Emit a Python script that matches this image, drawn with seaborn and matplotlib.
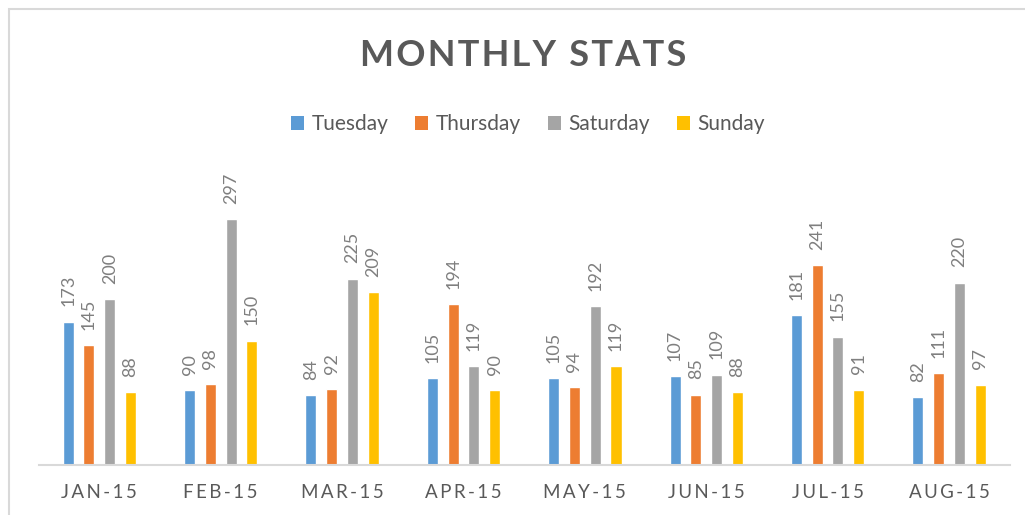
import matplotlib
matplotlib.use("Agg")
import matplotlib.pyplot as plt
from matplotlib.patches import Patch, Rectangle
import pandas as pd
import seaborn as sns

months = ["JAN-15", "FEB-15", "MAR-15", "APR-15", "MAY-15", "JUN-15", "JUL-15", "AUG-15"]
days = ["Tuesday", "Thursday", "Saturday", "Sunday"]
tuesday = [173, 90, 84, 105, 105, 107, 181, 82]
thursday = [145, 98, 92, 194, 94, 85, 241, 111]
saturday = [200, 297, 225, 119, 192, 109, 155, 220]
sunday = [88, 150, 209, 90, 119, 88, 91, 97]
colors = ["#5B9BD5", "#ED7D31", "#A5A5A5", "#FFC000"]

series = dict(zip(days, [tuesday, thursday, saturday, sunday]))
df = pd.DataFrame(
    [(m, d, v) for d in days for m, v in zip(months, series[d])],
    columns=["month", "day", "count"],
)

sns.set_theme(style="white")
plt.rcParams["font.family"] = ["Lato", "DejaVu Sans"]

THIN = "\u2009"
HAIR = "\u200a"

fig = plt.figure(figsize=(10.25, 5.15), dpi=100)
ax = fig.add_axes([0.0377, 0.0971, 0.9473, 0.563])

sns.barplot(
    data=df, x="month", y="count", hue="day", order=months, hue_order=days,
    palette=colors, width=0.685, gap=0.47, saturation=1, legend=False, ax=ax,
    err_kws={"linewidth": 0},
)

for cont in ax.containers:
    ax.bar_label(cont, rotation=90, padding=11, fontsize=13, color="#7F7F7F")

ax.set_xlim(-0.5, len(months) - 0.5)
ax.set_ylim(0, 350)
ax.set_xlabel("")
ax.set_ylabel("")
ax.set_yticks([])
ax.set_xticks(range(len(months)))
ax.set_xticklabels([THIN.join(m) for m in months], fontsize=13.5, color="#595959")
ax.tick_params(axis="x", length=0, pad=14)
for side in ["top", "left", "right"]:
    ax.spines[side].set_visible(False)
ax.spines["bottom"].set_color("#D9D9D9")
ax.spines["bottom"].set_linewidth(1.5)

fig.text(0.5107, 0.893, HAIR.join("MONTHLY STATS"), ha="center", va="center",
         fontsize=26, fontweight="bold", color="#595959")

handles = [Patch(facecolor=c, edgecolor="none", label=d) for c, d in zip(colors, days)]
fig.legend(handles=handles, loc="center", bbox_to_anchor=(0.515, 0.759), ncol=4,
           frameon=False, fontsize=15, labelcolor="#595959", handlelength=0.62,
           handleheight=0.62, handletextpad=0.36, columnspacing=1.3)

fig.patches.append(Rectangle((9 / 1025, -0.1), 1.2, 1.1 - 9.5 / 515,
                             transform=fig.transFigure, fill=False,
                             edgecolor="#D9D9D9", linewidth=1.5))

fig.savefig("out.png", dpi=100, facecolor="white")
